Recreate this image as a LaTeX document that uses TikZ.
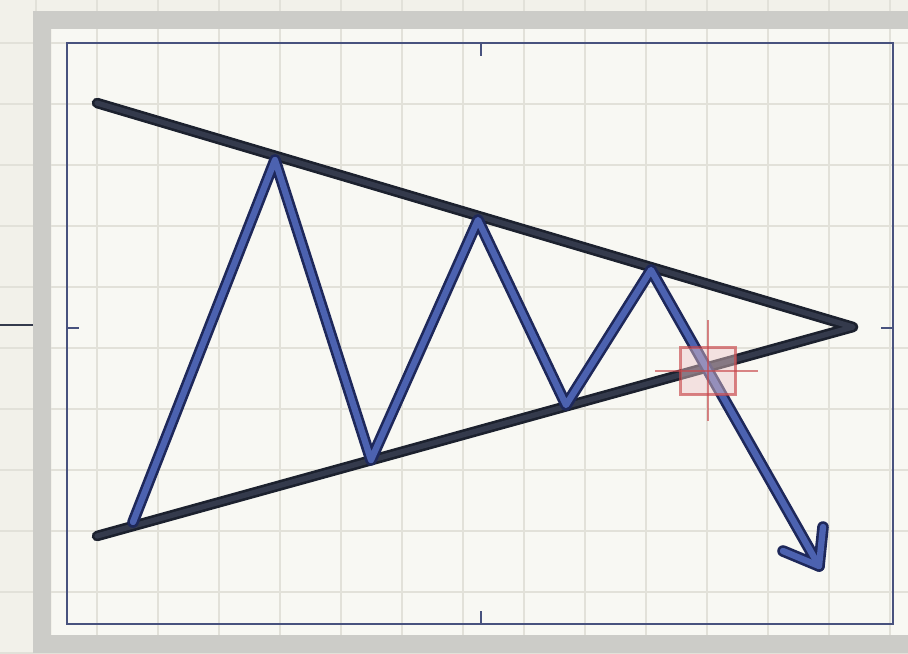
\documentclass[tikz,border=0pt]{standalone}
\usepackage{xcolor}
\definecolor{paperBg}{RGB}{242, 241, 234}
\definecolor{paperIn}{RGB}{248, 248, 243}
\definecolor{gridGray}{RGB}{226, 225, 217}
\definecolor{bandGray}{RGB}{204, 204, 200}
\definecolor{frameBlue}{RGB}{72, 82, 126}
\definecolor{trendDark}{RGB}{28, 33, 46}
\definecolor{trendFill}{RGB}{52, 58, 76}
\definecolor{waveDark}{RGB}{30, 40, 90}
\definecolor{waveBlue}{RGB}{76, 98, 176}
\definecolor{markRed}{RGB}{200, 70, 74}
\usetikzlibrary{calc}
\tikzset{
    gridline/.style={draw=gridGray, line width=0.8pt},
    band/.style={draw=bandGray, line width=10pt},
    frame/.style={draw=frameBlue, line width=1.1pt},
    tick/.style={draw=frameBlue, line width=1.6pt},
    trendOut/.style={draw=trendDark, line width=6pt, line cap=round, line join=round},
    trendIn/.style={draw=trendFill, line width=3pt, line cap=round, line join=round},
    waveOut/.style={draw=waveDark, line width=6.6pt, line cap=round, line join=round},
    waveIn/.style={draw=waveBlue, line width=3.6pt, line cap=round, line join=round},
    marker/.style={draw=markRed, line width=1.3pt, opacity=0.65}
}

\begin{document}
\begin{tikzpicture}[x=0.02cm, y=-0.02cm]

    % --- PAPER ---
    \useasboundingbox (0,0) rectangle (908,653);
    \fill[paperBg] (0,0) rectangle (908,653);
    \fill[paperIn] (52,28) rectangle (908,653);
    \foreach \x in {36,97,...,908}
        \draw[gridline] (\x,0) -- (\x,653);
    \foreach \y in {43,104,...,653}
        \draw[gridline] (0,\y) -- (908,\y);
    \draw[band] (42,20) rectangle (930,644);
    \draw[draw=trendFill, line width=1pt] (0,325) -- (33,325);

    % --- CHART FRAME ---
    \draw[frame] (67,43) rectangle (893,624);
    \draw[tick] (481,43) -- (481,56);
    \draw[tick] (481,611) -- (481,624);
    \draw[tick] (67,328) -- (79,328);
    \draw[tick] (881,328) -- (893,328);

    % --- TRIANGLE ---
    \coordinate (upStart) at (97,103);
    \coordinate (lowStart) at (97,536);
    \coordinate (apex) at (853,327);
    \foreach \s in {trendOut,trendIn} {
        \draw[\s] (upStart) -- (apex) -- (lowStart);
    }

    % --- PRICE WAVE ---
    \coordinate (w0) at (133,522);
    \coordinate (w1) at (275,160);
    \coordinate (w2) at (371,460);
    \coordinate (w3) at (478,220);
    \coordinate (w4) at (566,405);
    \coordinate (w5) at (651,270);
    \coordinate (tip) at (819,566);
    \coordinate (armL) at (783,551);
    \coordinate (armR) at (823,527);
    \foreach \s in {waveOut,waveIn} {
        \draw[\s] (w0) -- (w1) -- (w2) -- (w3) -- (w4) -- (w5) -- (tip);
        \draw[\s] (armL) -- (tip) -- (armR);
    }

    % --- BREAKOUT MARK ---
    \node[marker, fill=markRed!30, fill opacity=0.45, minimum width=1.1cm, minimum height=0.94cm, inner sep=0pt] (breakout) at (708,371) {};
    \draw[marker] ($(breakout.north)+(0,-26)$) -- ($(breakout.south)+(0,25)$);
    \draw[marker] ($(breakout.west)+(-24,0)$) -- ($(breakout.east)+(21,0)$);

\end{tikzpicture}
\end{document}
